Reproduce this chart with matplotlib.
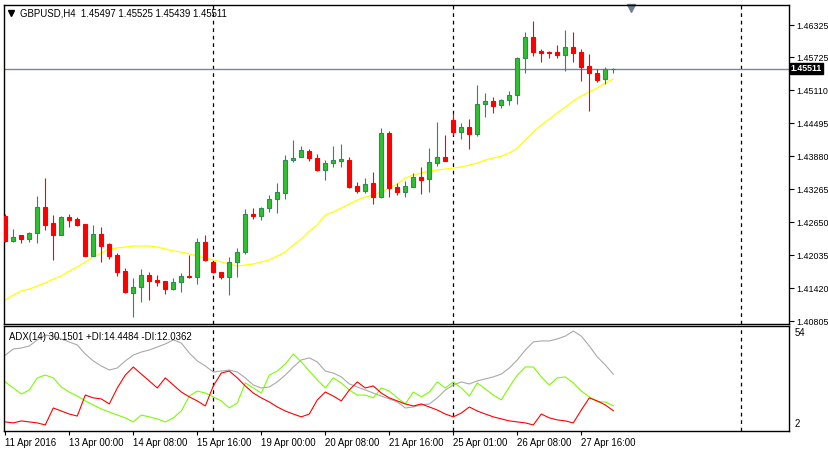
"""GBPUSD H4 candlestick chart with MA and ADX(14) sub-window, MT4 style."""

import matplotlib
matplotlib.use("Agg")
import matplotlib.pyplot as plt

plt.rcParams["font.family"] = ["Liberation Sans", "DejaVu Sans"]

# ── Price data (H4 bars) ─────────────────────────────────────────────
OPEN = [1.42765, 1.42299, 1.42411, 1.42336, 1.42448, 1.42933, 1.42635, 1.42411, 1.42746, 1.42709,
        1.42616, 1.42019, 1.42430, 1.42243, 1.42038, 1.41740, 1.41330, 1.41442, 1.41665, 1.41572,
        1.41553, 1.41404, 1.41535, 1.41647, 1.41628, 1.42280, 1.41908, 1.41721, 1.41628, 1.41908,
        1.42094, 1.42802, 1.42765, 1.42914, 1.43082, 1.43194, 1.43809, 1.43865, 1.43976, 1.43846,
        1.43622, 1.43753, 1.43790, 1.43809, 1.43324, 1.43231, 1.43380, 1.43119, 1.44312, 1.43306,
        1.43212, 1.43306, 1.43492, 1.43455, 1.43753, 1.43865, 1.44554, 1.44331, 1.44424, 1.44293,
        1.44853, 1.44909, 1.44834, 1.44927, 1.45020, 1.45710, 1.46101, 1.45840, 1.45822, 1.45822,
        1.45766, 1.45915, 1.45822, 1.45561, 1.45430, 1.45319, 1.45497]
HIGH = [1.42802, 1.42523, 1.42411, 1.42467, 1.43138, 1.43473, 1.42784, 1.42765, 1.42802, 1.42746,
        1.42616, 1.42597, 1.42560, 1.42262, 1.42075, 1.41796, 1.41609, 1.41777, 1.41721, 1.41665,
        1.41553, 1.41609, 1.41703, 1.42038, 1.42355, 1.42411, 1.41908, 1.41721, 1.42001, 1.42169,
        1.42895, 1.42914, 1.42933, 1.43156, 1.43380, 1.43902, 1.44182, 1.44070, 1.44014, 1.43921,
        1.43809, 1.44070, 1.44107, 1.43865, 1.43399, 1.43473, 1.43585, 1.44405, 1.44349, 1.43380,
        1.43417, 1.43566, 1.43678, 1.44032, 1.44517, 1.44275, 1.44685, 1.44498, 1.44573, 1.45207,
        1.45058, 1.44983, 1.44946, 1.45095, 1.45729, 1.46195, 1.46400, 1.45878, 1.45840, 1.45952,
        1.46232, 1.46195, 1.45878, 1.45785, 1.45505, 1.45542, 1.45525]
LOW = [1.42280, 1.42280, 1.42262, 1.42280, 1.42262, 1.42504, 1.41945, 1.42411, 1.42560, 1.42579,
       1.42019, 1.42019, 1.41908, 1.41964, 1.41647, 1.41330, 1.40882, 1.41162, 1.41199, 1.41460,
       1.41311, 1.41386, 1.41348, 1.41609, 1.41498, 1.41926, 1.41703, 1.41591, 1.41293, 1.41628,
       1.42057, 1.42709, 1.42690, 1.42840, 1.42821, 1.43082, 1.43771, 1.43865, 1.43790, 1.43604,
       1.43436, 1.43678, 1.43678, 1.43287, 1.43194, 1.43194, 1.42989, 1.43101, 1.43119, 1.43156,
       1.43119, 1.43306, 1.43175, 1.43212, 1.43697, 1.43790, 1.44275, 1.44200, 1.44014, 1.44256,
       1.44610, 1.44685, 1.44778, 1.44834, 1.44853, 1.45430, 1.45747, 1.45635, 1.45710, 1.45710,
       1.45468, 1.45635, 1.45281, 1.44722, 1.45263, 1.45225, 1.45439]
CLOSE = [1.42299, 1.42374, 1.42336, 1.42448, 1.42933, 1.42597, 1.42411, 1.42746, 1.42690, 1.42597,
         1.42019, 1.42430, 1.42206, 1.42019, 1.41721, 1.41348, 1.41442, 1.41665, 1.41553, 1.41535,
         1.41404, 1.41535, 1.41647, 1.41628, 1.42280, 1.41945, 1.41721, 1.41628, 1.41908, 1.42094,
         1.42802, 1.42765, 1.42914, 1.43082, 1.43212, 1.43809, 1.43846, 1.43995, 1.43846, 1.43622,
         1.43753, 1.43809, 1.43827, 1.43306, 1.43231, 1.43361, 1.43119, 1.44312, 1.43287, 1.43212,
         1.43324, 1.43492, 1.43436, 1.43771, 1.43865, 1.43790, 1.44331, 1.44424, 1.44293, 1.44853,
         1.44909, 1.44815, 1.44927, 1.45020, 1.45710, 1.46101, 1.45822, 1.45803, 1.45803, 1.45766,
         1.45915, 1.45803, 1.45542, 1.45430, 1.45300, 1.45505, 1.45511]

# Moving average (yellow line)
MA = [1.41199, 1.41293, 1.41367, 1.41404, 1.41460, 1.41516, 1.41591, 1.41647, 1.41740, 1.41814,
      1.41908, 1.42001, 1.42075, 1.42150, 1.42169, 1.42187, 1.42206, 1.42206, 1.42206, 1.42187,
      1.42150, 1.42113, 1.42094, 1.42057, 1.42019, 1.41982, 1.41945, 1.41908, 1.41870, 1.41833,
      1.41852, 1.41870, 1.41908, 1.41945, 1.42019, 1.42094, 1.42224, 1.42336, 1.42485, 1.42597,
      1.42784, 1.42840, 1.42914, 1.42989, 1.43063, 1.43119, 1.43156, 1.43212, 1.43287, 1.43361,
      1.43473, 1.43529, 1.43566, 1.43604, 1.43622, 1.43641, 1.43660, 1.43678, 1.43716, 1.43753,
      1.43809, 1.43846, 1.43883, 1.43939, 1.44032, 1.44182, 1.44331, 1.44461, 1.44573, 1.44685,
      1.44797, 1.44909, 1.45002, 1.45076, 1.45151, 1.45244, 1.45319]

# ADX(14) sub-window
ADX = [39.6, 42.6, 43.1, 44.1, 47.1, 49.5, 49.0, 47.6, 46.1, 44.6,
       40.1, 36.7, 34.2, 32.2, 33.2, 36.7, 39.6, 41.1, 42.1, 43.6,
       45.1, 47.1, 45.6, 40.6, 36.7, 34.2, 31.2, 31.7, 32.2, 31.2,
       28.3, 24.8, 23.3, 23.8, 26.3, 29.7, 33.7, 37.2, 38.2, 36.2,
       31.7, 30.7, 28.8, 25.3, 23.8, 22.3, 20.8, 19.3, 17.9, 16.4,
       13.4, 13.9, 14.9, 15.4, 18.4, 22.3, 24.8, 26.3, 25.3, 26.8,
       27.8, 28.8, 30.2, 33.2, 37.2, 42.1, 46.1, 46.6, 46.6, 47.6,
       49.0, 51.5, 49.0, 44.1, 38.7, 34.7, 30.15]
PLUS_DI = [26.3, 23.3, 20.3, 22.3, 28.3, 29.7, 28.3, 23.8, 21.3, 19.3,
           16.9, 14.9, 12.9, 11.4, 9.9, 8.5, 6.5, 9.9, 9.0, 8.0,
           6.5, 8.5, 11.9, 19.3, 21.8, 20.8, 18.9, 16.9, 13.4, 15.9,
           25.8, 23.3, 20.8, 29.7, 31.7, 35.2, 40.1, 36.2, 31.7, 27.3,
           23.3, 28.3, 25.8, 22.3, 19.8, 19.8, 18.4, 23.3, 21.8, 18.4,
           15.4, 21.3, 18.9, 21.3, 26.3, 23.3, 26.3, 23.3, 19.3, 25.8,
           22.8, 19.8, 17.4, 23.8, 29.7, 33.7, 33.7, 28.8, 24.8, 28.3,
           28.8, 25.8, 21.8, 18.9, 16.4, 16.4, 14.45]
MINUS_DI = [6.5, 6.0, 7.0, 6.5, 6.0, 5.0, 13.4, 11.9, 10.4, 9.4,
            19.8, 18.4, 17.9, 15.4, 23.3, 29.7, 33.7, 30.2, 26.8, 23.3,
            28.3, 24.8, 21.3, 18.9, 16.9, 14.4, 24.3, 30.7, 31.7, 28.3,
            24.3, 20.8, 18.4, 16.4, 13.9, 11.9, 10.4, 9.0, 10.4, 17.4,
            21.3, 19.3, 16.9, 22.3, 26.3, 23.3, 24.3, 20.8, 18.4, 16.9,
            15.4, 14.4, 15.4, 13.9, 12.4, 10.4, 9.0, 10.9, 13.9, 11.9,
            10.4, 9.0, 8.0, 7.0, 6.5, 6.0, 5.0, 10.4, 8.5, 7.5,
            7.0, 6.0, 12.4, 18.4, 16.9, 14.9, 12.04]

PRICE_TICKS = [1.46325, 1.45725, 1.45110, 1.44495, 1.43880, 1.43265, 1.42650, 1.42035, 1.41420, 1.40805]
DATE_BARS = [0, 8, 16, 24, 32, 40, 48, 56, 64, 72]
DATE_LABELS = ["11 Apr 2016", "13 Apr 00:00", "14 Apr 08:00", "15 Apr 16:00", "19 Apr 00:00",
               "20 Apr 08:00", "21 Apr 16:00", "25 Apr 01:00", "26 Apr 08:00", "27 Apr 16:00"]
SEPARATOR_BARS = [26, 56, 92]
BID = 1.45511

BULL_FACE = "#2ec12e"
BULL_EDGE = "#2e8b57"
BEAR = "#ff0000"
FS = 6.9      # general text
FS_PRICE = 6.4  # right price scale (must fit in the 40px margin)


def draw_candles(ax):
    for i, (o, h, l, c) in enumerate(zip(OPEN, HIGH, LOW, CLOSE)):
        bull = c >= o
        edge = BULL_EDGE if bull else BEAR
        face = BULL_FACE if bull else BEAR
        ax.vlines(i, l, h, color=edge, linewidth=0.8, zorder=2)
        lo, hi = min(o, c), max(o, c)
        if hi - lo < 0.00005:
            ax.hlines(o, i - 0.3, i + 0.3, color=edge, linewidth=1.0, zorder=3)
        else:
            ax.bar(i, hi - lo, bottom=lo, width=0.5, color=face, edgecolor=edge,
                   linewidth=0.8, zorder=3)


def main():
    fig = plt.figure(figsize=(8.29, 4.49), dpi=100)
    ax = fig.add_axes([4 / 829, 125 / 449, 785 / 829, 319 / 449])
    sub = fig.add_axes([4 / 829, 18 / 449, 785 / 829, 105 / 449])

    xlim = (-0.16, 97.96)

    # ── Main price window ──
    draw_candles(ax)
    ax.plot(range(len(MA)), MA, color="#ffff00", linewidth=0.9, zorder=1)
    ax.axhline(BID, color="#778899", linewidth=1.0, zorder=1)
    ax.set_xlim(*xlim)
    ax.set_ylim(1.40752, 1.46698)
    ax.set_xticks([])
    ax.yaxis.tick_right()
    ax.set_yticks(PRICE_TICKS)
    ax.set_yticklabels([f"{t:.5f}" for t in PRICE_TICKS], fontsize=FS_PRICE)
    ax.tick_params(axis="y", length=3.5, width=0.8, pad=1.5, colors="black")
    ax.text(1.002, (BID - 1.40752) / (1.46698 - 1.40752), f"{BID:.5f}", transform=ax.transAxes,
            fontsize=FS_PRICE, color="white", fontweight="bold", va="center", ha="left",
            bbox=dict(boxstyle="square,pad=0.12", facecolor="black", edgecolor="black"))
    ax.text(0.021, 0.973, "GBPUSD,H4  1.45497 1.45525 1.45439 1.45511", transform=ax.transAxes,
            fontsize=FS, va="center", ha="left")
    ax.plot([0.0095], [0.975], marker="v", markersize=4, color="black", transform=ax.transAxes,
            clip_on=False)
    ax.plot([0.7987], [0.992], marker="v", markersize=6, color="#708090", transform=ax.transAxes,
            clip_on=False)

    # ── ADX sub-window ──
    x = range(len(ADX))
    sub.plot(x, ADX, color="#a9a9a9", linewidth=0.8)
    sub.plot(x, PLUS_DI, color="#7cfc00", linewidth=0.8)
    sub.plot(x, MINUS_DI, color="#ff0000", linewidth=0.8)
    sub.set_xlim(*xlim)
    sub.set_ylim(2, 54)
    sub.set_yticks([])
    sub.set_xticks(DATE_BARS)
    sub.set_xticklabels(DATE_LABELS, fontsize=FS, ha="left")
    sub.tick_params(axis="x", length=3, width=0.8, pad=2)
    sub.text(1.007, 0.93, "54", transform=sub.transAxes, fontsize=FS, va="center", ha="left")
    sub.text(1.007, 0.07, "2", transform=sub.transAxes, fontsize=FS, va="center", ha="left")
    sub.text(0.007, 0.9, "ADX(14) 30.1501 +DI:14.4484 -DI:12.0362", transform=sub.transAxes,
             fontsize=FS, va="center", ha="left")

    for a in (ax, sub):
        for s in a.spines.values():
            s.set_linewidth(1.0)
            s.set_color("black")
        for b in SEPARATOR_BARS:
            a.axvline(b, color="black", linestyle=(0, (3, 3)), linewidth=0.9, zorder=0)

    fig.savefig("out.png", dpi=100, facecolor="white")
    plt.close(fig)


if __name__ == "__main__":
    main()
